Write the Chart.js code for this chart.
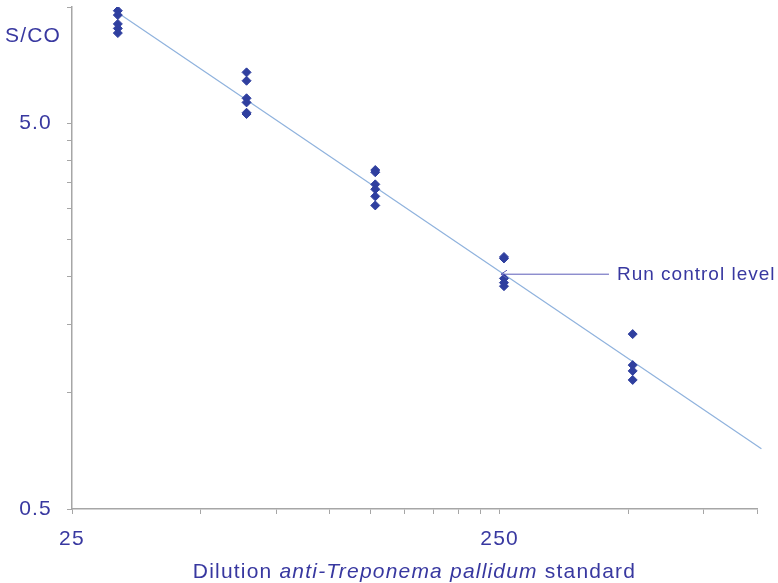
<!DOCTYPE html>
<html>
<head>
<meta charset="utf-8">
<script src="https://cdn.jsdelivr.net/npm/chart.js@4/dist/chart.umd.min.js"></script>
<style>
  html, body { margin: 0; padding: 0; background: #ffffff; }
  #wrap { width: 778px; height: 583px; }
</style>
</head>
<body>
<div id="wrap"><canvas id="c" width="778" height="583"></canvas></div>
<script>
// ---- data ----
const dilutions = [32, 64, 128, 256, 512];
const replicates32  = [9.78, 9.53, 9.04, 8.80, 8.56];
const replicates64  = [6.77, 6.44, 5.80, 5.66, 5.32, 5.28];
const replicates128 = [3.78, 3.73, 3.47, 3.37, 3.23, 3.06];
const replicates256 = [2.25, 2.23, 1.98, 1.93, 1.89];
const replicates512 = [1.42, 1.18, 1.14, 1.08];
const trendX = [32, 1024];
const trendY = [9.66, 0.716];
const xTickValues = [25, 50, 75, 100, 125, 150, 175, 200, 225, 250, 500, 750, 1000];
const xTickLabels = { 25: '25', 250: '250' };
const yTickValues = [0.5, 1, 1.5, 2, 2.5, 3, 3.5, 4, 4.5, 5, 10];
const yTickLabels = { 0.5: '0.5', 5: '5.0' };
const controlLevel = { x: 256, y: 2.03, label: 'Run control level' };
const yAxisTitle = 'S/CO';
const xTitleParts = [
  { text: 'Dilution ', italic: false },
  { text: 'anti-Treponema pallidum', italic: true },
  { text: ' standard', italic: false }
];

const TEXT = '#3838a0';
const FONT = 'Liberation Sans, Arial, sans-serif';
const AXIS = '#a6a6a6';
const SPACING = '1.2px';

const groups = [replicates32, replicates64, replicates128, replicates256, replicates512];
const points = [];
groups.forEach((g, i) => g.forEach(v => points.push({ x: dilutions[i], y: v })));
const trend = trendX.map((x, i) => ({ x, y: trendY[i] }));

const annot = {
  id: 'annot',
  beforeDraw(chart) {
    chart.ctx.letterSpacing = SPACING;
  },
  afterDraw(chart) {
    const ctx = chart.ctx;
    const xs = chart.scales.x, ys = chart.scales.y;
    ctx.save();
    ctx.letterSpacing = SPACING;
    // y-axis title
    ctx.fillStyle = TEXT;
    ctx.font = '21px ' + FONT;
    ctx.textBaseline = 'middle';
    ctx.textAlign = 'left';
    ctx.fillText(yAxisTitle, 5, 36);
    // x-axis title with italic part
    const widths = xTitleParts.map(p => {
      ctx.font = (p.italic ? 'italic ' : '') + '21px ' + FONT;
      return ctx.measureText(p.text).width;
    });
    const total = widths.reduce((a, b) => a + b, 0);
    let x0 = (chart.chartArea.left + chart.chartArea.right) / 2 - total / 2;
    xTitleParts.forEach((p, i) => {
      ctx.font = (p.italic ? 'italic ' : '') + '21px ' + FONT;
      ctx.fillText(p.text, x0, 572);
      x0 += widths[i];
    });
    // run control arrow
    const tipX = xs.getPixelForValue(controlLevel.x) - 3;
    const tipY = ys.getPixelForValue(controlLevel.y);
    const endX = tipX + 108;
    ctx.strokeStyle = '#5c5cb8';
    ctx.lineWidth = 1;
    ctx.beginPath();
    ctx.moveTo(endX, tipY);
    ctx.lineTo(tipX, tipY);
    ctx.moveTo(tipX + 6, tipY - 4);
    ctx.lineTo(tipX, tipY);
    ctx.lineTo(tipX + 6, tipY + 4);
    ctx.stroke();
    ctx.letterSpacing = '1px';
    ctx.font = '19px ' + FONT;
    ctx.fillStyle = TEXT;
    ctx.fillText(controlLevel.label, endX + 8, tipY + 1);
    ctx.restore();
  }
};

new Chart(document.getElementById('c'), {
  type: 'scatter',
  data: {
    datasets: [
      {
        data: trend,
        showLine: true,
        borderColor: '#8fb2dd',
        borderWidth: 1.2,
        pointRadius: 0,
        clip: false,
        order: 2
      },
      {
        data: points,
        pointStyle: 'rectRot',
        pointRadius: 4.5,
        backgroundColor: '#2f3f9f',
        borderColor: '#2f3f9f',
        borderWidth: 1,
        order: 1
      }
    ]
  },
  options: {
    responsive: false,
    animation: false,
    devicePixelRatio: 1,
    layout: { padding: { top: 7, right: 21, left: 0, bottom: 0 } },
    plugins: { legend: { display: false }, tooltip: { enabled: false } },
    scales: {
      x: {
        type: 'logarithmic',
        min: 25, max: 1000,
        afterBuildTicks(s) { s.ticks = xTickValues.map(v => ({ value: v })); },
        afterFit(s) { s.height = 74; s.paddingLeft = 0; s.paddingRight = 0; },
        grid: { drawOnChartArea: false, drawTicks: true, tickLength: 5, color: AXIS },
        border: { color: AXIS, width: 1.5 },
        ticks: {
          autoSkip: false, maxRotation: 0, padding: 13,
          color: TEXT, font: { family: FONT, size: 21 },
          callback: v => xTickLabels[v] || ''
        }
      },
      y: {
        type: 'logarithmic',
        min: 0.5, max: 10,
        afterBuildTicks(s) { s.ticks = yTickValues.map(v => ({ value: v })); },
        afterFit(s) { s.width = 72; s.paddingTop = 0; s.paddingBottom = 0; },
        grid: { drawOnChartArea: false, drawTicks: true, tickLength: 5, color: AXIS },
        border: { color: AXIS, width: 1.5 },
        ticks: {
          autoSkip: false, padding: 15,
          color: TEXT, font: { family: FONT, size: 21 },
          callback: v => yTickLabels[v] || ''
        }
      }
    }
  },
  plugins: [annot]
});
</script>
</body>
</html>
